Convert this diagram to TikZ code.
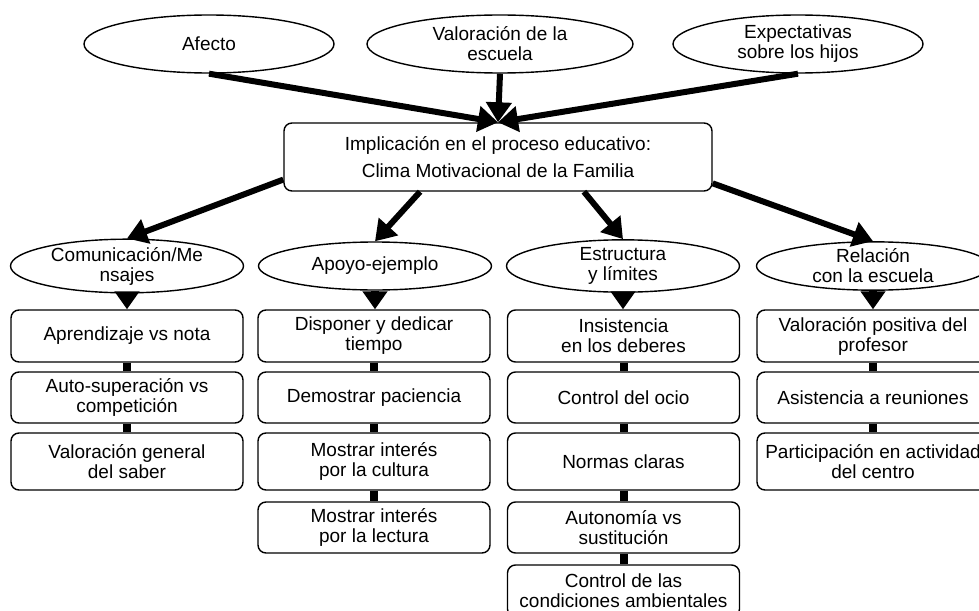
\documentclass[tikz,border=0pt]{standalone}
\usepackage{fontspec}
\setmainfont{Liberation Sans}
\usetikzlibrary{arrows.meta,shapes.geometric}
\tikzset{
  oval/.style={ellipse, draw, line width=1.4pt, inner sep=0pt, align=center, font=\fontsize{19}{20}\selectfont},
  topoval/.style={oval, minimum height=58pt},
  midoval/.style={oval, minimum width=233pt, minimum height=48pt},
  itembox/.style={rectangle, draw, line width=1.4pt, rounded corners=8pt, minimum width=232pt, inner sep=0pt, align=center, font=\fontsize{19}{20}\selectfont},
  bigarrow/.style={line width=6pt, -{Triangle[width=25pt,length=20pt]}},
  downarrow/.style={line width=8pt, -{Triangle[width=24pt,length=18pt]}},
  link/.style={line width=8pt}
}
\begin{document}
\begin{tikzpicture}[x=1pt,y=-1pt]
\clip (0,0) rectangle (979,610);
\fill[white] (0,0) rectangle (979,610);
% top ellipses
\node[topoval, minimum width=250pt] (afecto) at (209,44) {Afecto};
\node[topoval, minimum width=266pt] (valor) at (500,44) {Valoración de la\\escuela};
\node[topoval, minimum width=250pt] (expec) at (798,44) {Expectativas\\sobre los hijos};
% central box
\node[itembox, minimum width=428pt, minimum height=68pt, font=\fontsize{19}{27}\selectfont] (imp) at (498,157) {Implicación en el proceso educativo:\\Clima Motivacional de la Familia};
\draw[bigarrow] (afecto.south) -- (imp.north);
\draw[bigarrow] (valor.south) -- (imp.north);
\draw[bigarrow] (expec.south) -- (imp.north);
% second level
\node[midoval] (com) at (127,266) {Comunicación/Me\\nsajes};
\node[midoval] (apo) at (375,266) {Apoyo-ejemplo};
\node[midoval] (est) at (623,266) {Estructura\\y límites};
\node[midoval] (rel) at (873,266) {Relación\\con la escuela};
\draw[bigarrow] (imp.186) -- (com.north);
\draw[bigarrow] (imp.204.4) -- (apo.north);
\draw[bigarrow] (imp.-22.5) -- (est.north);
\draw[bigarrow] (imp.-7.6) -- (rel.north);
% column 1
\node[itembox, minimum height=52pt] (c1a) at (127,336) {Aprendizaje vs nota};
\node[itembox, minimum height=51pt] (c1b) at (127,397.5) {Auto-superación vs\\competición};
\node[itembox, minimum height=57pt] (c1c) at (127,461.5) {Valoración general\\del saber};
% column 2
\node[itembox, minimum height=52pt] (c2a) at (374,336) {Disponer y dedicar\\tiempo};
\node[itembox, minimum height=51pt] (c2b) at (374,397.5) {Demostrar paciencia};
\node[itembox, minimum height=57pt] (c2c) at (374,461.5) {Mostrar interés\\por la cultura};
\node[itembox, minimum height=51pt] (c2d) at (374,527.5) {Mostrar interés\\por la lectura};
% column 3
\node[itembox, minimum height=52pt] (c3a) at (623.5,336) {Insistencia\\en los deberes};
\node[itembox, minimum height=51pt] (c3b) at (623.5,397.5) {Control del ocio};
\node[itembox, minimum height=57pt] (c3c) at (623.5,461.5) {Normas claras};
\node[itembox, minimum height=51pt] (c3d) at (623.5,527.5) {Autonomía vs\\sustitución};
\node[itembox, minimum height=52pt] (c3e) at (623.5,591) {Control de las\\condiciones ambientales};
% column 4
\node[itembox, minimum height=52pt] (c4a) at (873,336) {Valoración positiva del\\profesor};
\node[itembox, minimum height=51pt] (c4b) at (873,397.5) {Asistencia a reuniones};
\node[itembox, minimum height=57pt] (c4c) at (873,461.5) {Participación en actividad\\del centro};
% down arrows
\draw[downarrow] (com.south) -- (com.south |- c1a.north);
\draw[downarrow] (apo.south) -- (apo.south |- c2a.north);
\draw[downarrow] (est.south) -- (est.south |- c3a.north);
\draw[downarrow] (rel.south) -- (rel.south |- c4a.north);
% links
\draw[link] (c1a.south) -- (c1b.north);
\draw[link] (c1b.south) -- (c1c.north);
\draw[link] (c2a.south) -- (c2b.north);
\draw[link] (c2b.south) -- (c2c.north);
\draw[link] (c2c.south) -- (c2d.north);
\draw[link] (c3a.south) -- (c3b.north);
\draw[link] (c3b.south) -- (c3c.north);
\draw[link] (c3c.south) -- (c3d.north);
\draw[link] (c3d.south) -- (c3e.north);
\draw[link] (c4a.south) -- (c4b.north);
\draw[link] (c4b.south) -- (c4c.north);
\end{tikzpicture}
\end{document}
